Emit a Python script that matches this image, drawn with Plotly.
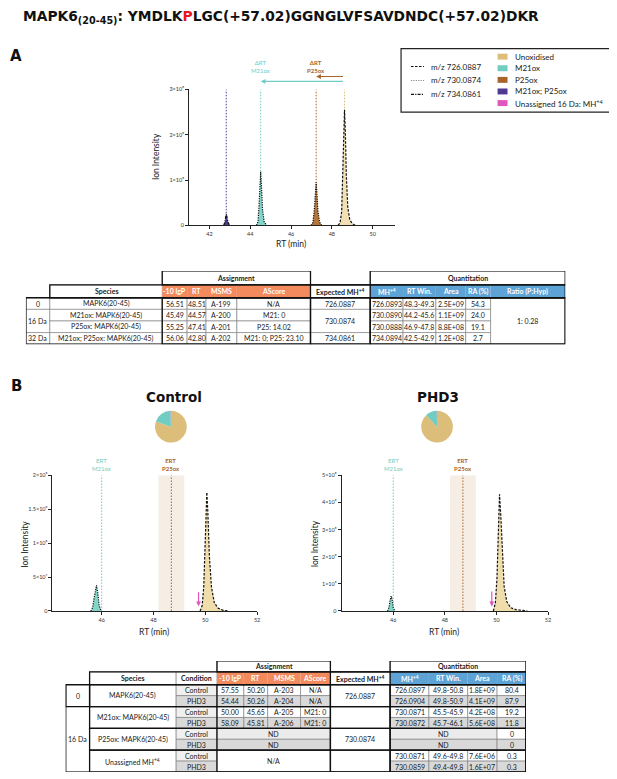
import plotly.graph_objects as go

# page body has an 8px margin, so the figure is offset by 8px in the window
OFF = 8
W, H = 617 - OFF, 779 - OFF


def fx(px):
    return (px - OFF) / W


def fy(py):
    return 1 - (py - OFF) / H


# ---------------- data ----------------
# Panel A: XIC peaks, intensity in units of 1e8
a_unox_rt = [48.30, 48.40, 48.48, 48.54, 48.58, 48.62, 48.66, 48.71, 48.78, 48.88, 49.00, 49.15]
a_unox_int = [0, 0.05, 0.30, 1.00, 1.90, 2.55, 2.10, 1.10, 0.40, 0.12, 0.04, 0]
a_m21_rt = [44.30, 44.38, 44.43, 44.47, 44.51, 44.55, 44.60, 44.68, 44.80]
a_m21_int = [0, 0.08, 0.45, 0.95, 1.18, 0.85, 0.35, 0.08, 0]
a_p25_rt = [46.98, 47.07, 47.14, 47.19, 47.23, 47.27, 47.32, 47.40, 47.50]
a_p25_int = [0, 0.06, 0.35, 0.75, 0.95, 0.70, 0.30, 0.07, 0]
a_dox_rt = [42.70, 42.76, 42.80, 42.83, 42.87, 42.92, 43.00]
a_dox_int = [0, 0.08, 0.20, 0.25, 0.15, 0.05, 0]
a_guide_rt = [42.82, 44.51, 47.23, 48.62]

# Panel B: control / PHD3 XIC peaks
c_unox_rt = [49.80, 49.88, 49.94, 49.98, 50.02, 50.06, 50.10, 50.16, 50.24, 50.35, 50.50, 50.70, 50.90]
c_unox_int = [0, 0.08, 0.35, 0.80, 1.50, 1.75, 1.45, 0.80, 0.35, 0.12, 0.04, 0.01, 0]
c_m21_rt = [45.58, 45.65, 45.71, 45.76, 45.80, 45.85, 45.90, 45.97]
c_m21_int = [0, 0.05, 0.20, 0.34, 0.38, 0.26, 0.09, 0]
p_unox_rt = [49.88, 49.96, 50.02, 50.07, 50.12, 50.17, 50.23, 50.30, 50.40, 50.55, 50.75, 51.00, 51.20]
p_unox_int = [0, 0.30, 1.20, 2.80, 4.30, 3.50, 2.00, 0.90, 0.35, 0.12, 0.05, 0.02, 0]
p_m21_rt = [45.78, 45.84, 45.88, 45.92, 45.96, 46.00, 46.06]
p_m21_int = [0, 0.15, 0.40, 0.55, 0.42, 0.12, 0]
c_ert = [46.00, 48.69]   # expected RT of M21ox, P25ox
p_ert = [46.00, 48.70]
ert_half = 0.5
c_unassigned_rt = 49.74
p_unassigned_rt = 49.82

pie_labels = ["Unoxidised", "M21ox", "P25ox", "Unassigned 16 Da: MH+4"]
ctrl_ra = [80.4, 19.2, 0, 0.3]
phd3_ra = [87.9, 11.8, 0, 0.3]

mz_labels = ["m/z 726.0887", "m/z 730.0874", "m/z 734.0861"]
species_labels = ["Unoxidised", "M21ox", "P25ox", "M21ox; P25ox", "Unassigned 16 Da: MH<sup>+4</sup>"]

# Table A
ta_delta = ["0", "16 Da", "32 Da"]
ta_delta_span = [1, 2, 1]
ta_species = ["MAPK6(20-45)", "M21ox: MAPK6(20-45)", "P25ox: MAPK6(20-45)", "M21ox; P25ox: MAPK6(20-45)"]
ta_lgp = ["56.51", "45.49", "55.25", "56.06"]
ta_rt = ["48.51", "44.57", "47.41", "42.80"]
ta_msms = ["A-199", "A-200", "A-201", "A-202"]
ta_ascore = ["N/A", "M21: 0", "P25: 14.02", "M21: 0; P25: 23.10"]
ta_expected = ["726.0887", "730.0874", "734.0861"]
ta_mh = ["726.0893", "730.0890", "730.0888", "734.0894"]
ta_rtwin = ["48.3-49.3", "44.2-45.6", "46.9-47.8", "42.5-42.9"]
ta_area = ["2.5E+09", "1.1E+09", "8.8E+08", "1.2E+08"]
ta_ra = ["54.3", "24.0", "19.1", "2.7"]
ta_ratio = "1: 0.28"

# Table B
tb_delta = ["0", "16 Da"]
tb_delta_span = [2, 6]
tb_species = ["MAPK6(20-45)", "M21ox: MAPK6(20-45)", "P25ox: MAPK6(20-45)", "Unassigned MH<sup>+4</sup>"]
tb_condition = ["Control", "PHD3"] * 4
tb_lgp = ["57.55", "54.44", "50.00", "58.09"]
tb_rt = ["50.20", "50.26", "45.65", "45.81"]
tb_msms = ["A-203", "A-204", "A-205", "A-206"]
tb_ascore = ["N/A", "N/A", "M21: 0", "M21: 0"]
tb_expected = ["726.0887", "730.0874"]
tb_expected_span = [2, 6]
tb_mh = ["726.0897", "726.0904", "730.0871", "730.0872", "ND", "ND", "730.0871", "730.0859"]
tb_rtwin = ["49.8-50.8", "49.8-50.9", "45.5-45.9", "45.7-46.1", "", "", "49.6-49.8", "49.4-49.8"]
tb_area = ["1.8E+09", "4.1E+09", "4.2E+08", "5.6E+08", "", "", "7.6E+06", "1.6E+07"]
tb_ra = ["80.4", "87.9", "19.2", "11.8", "0", "0", "0.3", "0.3"]

# ---------------- styles ----------------
TAN, TEAL, BROWN, PURPLE, PINK = "#DDBD7A", "#6FCDC1", "#A8652B", "#4F3A93", "#E055BE"
TAN_FILL = "#F2E0B4"
ORANGE, BLUE = "#F28A5E", "#5EA3D6"
FONT = "Lato"
TFONT = "Lato"
TSIZE = 7
E8 = 1e8
DASH = {"726": "2.5px,1.5px", "730": "1.2px,1.2px", "734": "3px,1.2px,1.2px,1.2px"}

fig = go.Figure()
shapes = []
annotations = []


def note(x, y, text, size, color="#222222", family=FONT, xanchor="center", angle=0,
         xref="paper", yref="paper"):
    annotations.append(dict(x=x, y=y, xref=xref, yref=yref, text=text, textangle=angle,
                            showarrow=False, xanchor=xanchor, yanchor="middle",
                            font=dict(family=family, size=size, color=color)))


def peak(xa, ya, rt, inten, fill, dash):
    ys = [v * E8 for v in inten]
    fig.add_trace(go.Scatter(x=rt, y=ys, xaxis=xa, yaxis=ya, mode="lines", fill="tozeroy",
                             fillcolor=fill, line=dict(width=0), showlegend=False, hoverinfo="skip"))
    fig.add_trace(go.Scatter(x=rt, y=ys, xaxis=xa, yaxis=ya, mode="lines",
                             line=dict(color="#111111", width=1.2, dash=dash), showlegend=False,
                             hoverinfo="skip"))


def guide(xa, ya, x, top, color):
    fig.add_trace(go.Scatter(x=[x, x], y=[0, top], xaxis=xa, yaxis=ya, mode="lines",
                             line=dict(color=color, width=1, dash="1.5px,1.5px"), showlegend=False,
                             hoverinfo="skip"))


# ---- panel A chart ----
for x, c in zip(a_guide_rt, [PURPLE, TEAL, BROWN, TAN]):
    guide("x", "y", x, 3 * E8, c)
peak("x", "y", a_dox_rt, a_dox_int, PURPLE, DASH["734"])
peak("x", "y", a_m21_rt, a_m21_int, "#82D6C9", DASH["730"])
peak("x", "y", a_p25_rt, a_p25_int, "#B47638", DASH["730"])
peak("x", "y", a_unox_rt, a_unox_int, TAN_FILL, DASH["726"])

# ΔRT arrows above panel A
for head, yy, c in [(a_guide_rt[1], 79, TEAL), (a_guide_rt[2], 74, BROWN)]:
    annotations.append(dict(x=head, y=fy(yy), xref="x", yref="paper", ax=a_guide_rt[3], ay=0,
                            axref="x", ayref="pixel", text="", showarrow=True, arrowhead=2,
                            arrowsize=0.8, arrowwidth=1.2, arrowcolor=c))
note(a_guide_rt[1], fy(64), "ΔRT<br>M21ox", 6, TEAL, xref="x")
note(a_guide_rt[2], fy(64), "<b>ΔRT<br>P25ox</b>", 6, BROWN, xref="x")

# ---- panel B charts ----
for xa, ya, ert, top, rt_u, in_u, rt_m, in_m, pink_x, arrow in [
    ("x2", "y2", c_ert, 2 * E8, c_unox_rt, c_unox_int, c_m21_rt, c_m21_int, c_unassigned_rt, (0.07, 0.30)),
    ("x3", "y3", p_ert, 5 * E8, p_unox_rt, p_unox_int, p_m21_rt, p_m21_int, p_unassigned_rt, (0.17, 0.77)),
]:
    shapes.append(dict(type="rect", xref=xa, yref=ya, x0=ert[1] - ert_half, x1=ert[1] + ert_half,
                       y0=0, y1=top, fillcolor="#F6EEE5", line=dict(width=0), layer="below"))
    guide(xa, ya, ert[0], top, TEAL)
    guide(xa, ya, ert[1], top, BROWN)
    peak(xa, ya, rt_m, in_m, "#82D6C9", DASH["730"])
    peak(xa, ya, rt_u, in_u, "#F0DDAC", DASH["726"])
    annotations.append(dict(x=pink_x, y=arrow[0] * E8, xref=xa, yref=ya, ax=pink_x, ay=arrow[1] * E8,
                            axref=xa, ayref=ya, text="", showarrow=True, arrowhead=2, arrowsize=0.8,
                            arrowwidth=1.2, arrowcolor=PINK))
    note(ert[0], fy(465), "ERT<br>M21ox", 6, TEAL, xref=xa)
    note(ert[1], fy(465), "<b>ERT<br>P25ox</b>", 6, BROWN, xref=xa)

# pies
pie_colors = [TAN, TEAL, BROWN, PINK]
for vals, cx in [(ctrl_ra, 171.7), (phd3_ra, 439.2)]:
    fig.add_trace(go.Pie(labels=pie_labels, values=vals, sort=False, direction="clockwise",
                         marker=dict(colors=pie_colors, line=dict(width=0)), textinfo="none",
                         showlegend=False, hoverinfo="skip",
                         domain=dict(x=[fx(cx - 16), fx(cx + 16)], y=[fy(443), fy(411)])))

# ---- axes ----
tick_font = dict(family=FONT, size=5.5, color="#333333")


def xax(domain, rng, ticks, anchor):
    return dict(domain=domain, range=rng, tickvals=ticks, ticktext=[str(t) for t in ticks],
                showline=True, linecolor="#222222", linewidth=1, ticks="outside", ticklen=3,
                tickwidth=1, tickcolor="#222222", showgrid=False, zeroline=False,
                tickfont=tick_font, anchor=anchor)


def yax(domain, rng, ticks, labels, anchor):
    return dict(domain=domain, range=rng, tickvals=ticks, ticktext=labels,
                showline=True, linecolor="#222222", linewidth=1, ticks="outside", ticklen=3,
                tickwidth=1, tickcolor="#222222", showgrid=False, zeroline=False,
                tickfont=tick_font, anchor=anchor)


layout_axes = dict(
    xaxis=xax([fx(190), fx(397)], [41.0, 51.1], [42, 44, 46, 48, 50], "y"),
    yaxis=yax([fy(224), fy(87)], [0, 3 * E8], [0, E8, 2 * E8, 3 * E8],
              ["0", "1×10⁸", "2×10⁸", "3×10⁸"], "x"),
    xaxis2=xax([fx(52.7), fx(258.3)], [44.1, 52.0], [46, 48, 50, 52], "y2"),
    yaxis2=yax([fy(612.7), fy(476)], [0, 2 * E8], [0, 0.5 * E8, E8, 1.5 * E8, 2 * E8],
               ["0", "5×10⁷", "1×10⁸", "1.5×10⁸", "2×10⁸"], "x2"),
    xaxis3=xax([fx(343.3), fx(550.7)], [44.0, 52.0], [46, 48, 50, 52], "y3"),
    yaxis3=yax([fy(612.7), fy(476)], [0, 5 * E8], [0, E8, 2 * E8, 3 * E8, 4 * E8, 5 * E8],
               ["0", "1×10⁸", "2×10⁸", "3×10⁸", "4×10⁸", "5×10⁸"], "x3"),
)

# axis titles
for x, y, txt, ang in [(157, 155, "Ion Intensity", -90), (292, 243, "RT (min)", 0),
                       (25, 545, "Ion Intensity", -90), (155, 634, "RT (min)", 0),
                       (316, 545, "Ion Intensity", -90), (446, 634, "RT (min)", 0)]:
    note(fx(x), fy(y), txt, 8.5, angle=ang)

# ---- legend box (panel A) ----
shapes.append(dict(type="rect", xref="paper", yref="paper", x0=fx(403), x1=fx(613), y0=fy(110), y1=fy(46),
                   line=dict(color="#222222", width=1.2), fillcolor="white"))
for i, (lab, key, col) in enumerate(zip(mz_labels, ["726", "730", "734"], ["#111", "#888", "#111"])):
    yy = 64 + 14 * i
    shapes.append(dict(type="line", xref="paper", yref="paper", x0=fx(413), x1=fx(426), y0=fy(yy), y1=fy(yy),
                       line=dict(color=col, width=1.1, dash=DASH[key])))
    note(fx(431), fy(yy), lab, 8, xanchor="left")
for i, (lab, col) in enumerate(zip(species_labels, [TAN, TEAL, BROWN, PURPLE, PINK])):
    yy = 54 + 11.7 * i
    shapes.append(dict(type="rect", xref="paper", yref="paper", x0=fx(500), x1=fx(510), y0=fy(yy + 3),
                       y1=fy(yy - 3), fillcolor=col, line=dict(width=0)))
    note(fx(515), fy(yy), lab, 8, xanchor="left")


# ---- tables ----
def cell(xa, ya, x0, x1, y0, y1, text="", fill="white", color="#1a1a1a", bold=False, line=True):
    shapes.append(dict(type="rect", xref=xa, yref=ya, x0=x0, x1=x1, y0=y0, y1=y1, fillcolor=fill,
                       line=dict(color="#777777", width=0.6 if line else 0)))
    if text:
        note((x0 + x1) / 2, (y0 + y1) / 2, f"<b>{text}</b>" if bold else text, TSIZE, color,
             family=TFONT, xref=xa, yref=ya)


def frame(xa, ya, x0, x1, y0, y1):
    shapes.append(dict(type="rect", xref=xa, yref=ya, x0=x0, x1=x1, y0=y0, y1=y1,
                       line=dict(color="#111111", width=1.3), fillcolor="rgba(0,0,0,0)"))


def cum(widths):
    out = [0]
    for w in widths:
        out.append(out[-1] + w)
    return out


# Table A
ta_w = [24, 113, 25, 19, 31, 74, 60, 33, 33, 30, 25, 75]
tx = cum(ta_w)
ty = [0, 14, 27, 38.7, 50.4, 62.1, 73.8]
XA, YA = "x4", "y4"
cell(XA, YA, tx[2], tx[6], ty[0], ty[1], "Assignment", bold=True)
cell(XA, YA, tx[7], tx[12], ty[0], ty[1], "Quantitation", bold=True)
heads = ["Species", "-10 lgP", "RT", "MSMS", "AScore", "Expected MH<sup>+4</sup>",
         "MH<sup>+4</sup>", "RT Win.", "Area", "RA (%)", "Ratio (P:Hyp)"]
for j, h in enumerate(heads, start=1):
    if 2 <= j <= 5:
        cell(XA, YA, tx[j], tx[j + 1], ty[1], ty[2], h, fill=ORANGE, color="white", bold=True, line=False)
    elif j >= 7:
        cell(XA, YA, tx[j], tx[j + 1], ty[1], ty[2], h, fill=BLUE, color="white", bold=True, line=False)
    else:
        cell(XA, YA, tx[j], tx[j + 1], ty[1], ty[2], h, bold=True)
r = 0
for d, span in zip(ta_delta, ta_delta_span):
    cell(XA, YA, tx[0], tx[1], ty[2 + r], ty[2 + r + span], d)
    r += span
r = 0
for e, span in zip(ta_expected, ta_delta_span):
    cell(XA, YA, tx[6], tx[7], ty[2 + r], ty[2 + r + span], e)
    r += span
for i in range(4):
    y0, y1 = ty[2 + i], ty[3 + i]
    for j, v in [(1, ta_species[i]), (2, ta_lgp[i]), (3, ta_rt[i]), (4, ta_msms[i]), (5, ta_ascore[i]),
                 (7, ta_mh[i]), (8, ta_rtwin[i]), (9, ta_area[i]), (10, ta_ra[i])]:
        cell(XA, YA, tx[j], tx[j + 1], y0, y1, v)
cell(XA, YA, tx[11], tx[12], ty[2], ty[6], ta_ratio)
frame(XA, YA, tx[2], tx[6], ty[0], ty[1])
frame(XA, YA, tx[7], tx[12], ty[0], ty[1])
frame(XA, YA, tx[1], tx[12], ty[1], ty[2])
frame(XA, YA, tx[0], tx[12], ty[2], ty[6])
frame(XA, YA, tx[6], tx[7], ty[1], ty[6])
frame(XA, YA, tx[2], tx[6], ty[2], ty[6])
frame(XA, YA, tx[7], tx[12], ty[2], ty[6])

# Table B
tb_w = [24, 87, 41, 27, 24, 33, 30, 60, 39, 39, 29.5, 29]
bx = cum(tb_w)
by = [0, 11, 24] + [24 + 11 * k for k in range(1, 9)]
XB, YB = "x5", "y5"
GRAY, LIGHT = "#D9D9D9", "#F0F0F0"
cell(XB, YB, bx[3], bx[7], by[0], by[1], "Assignment", bold=True)
cell(XB, YB, bx[8], bx[12], by[0], by[1], "Quantitation", bold=True)
heads_b = ["Species", "Condition", "-10 lgP", "RT", "MSMS", "AScore", "Expected MH<sup>+4</sup>",
           "MH<sup>+4</sup>", "RT Win.", "Area", "RA (%)"]
for j, h in enumerate(heads_b, start=1):
    if 3 <= j <= 6:
        cell(XB, YB, bx[j], bx[j + 1], by[1], by[2], h, fill=ORANGE, color="white", bold=True, line=False)
    elif j >= 8:
        cell(XB, YB, bx[j], bx[j + 1], by[1], by[2], h, fill=BLUE, color="white", bold=True, line=False)
    else:
        cell(XB, YB, bx[j], bx[j + 1], by[1], by[2], h, bold=True)
r = 0
for d, span in zip(tb_delta, tb_delta_span):
    cell(XB, YB, bx[0], bx[1], by[2 + r], by[2 + r + span], d)
    r += span
r = 0
for e, span in zip(tb_expected, tb_expected_span):
    cell(XB, YB, bx[7], bx[8], by[2 + r], by[2 + r + span], e)
    r += span
for k, s in enumerate(tb_species):
    cell(XB, YB, bx[1], bx[2], by[2 + 2 * k], by[4 + 2 * k], s)
for i in range(8):
    y0, y1 = by[2 + i], by[3 + i]
    phd3 = tb_condition[i] == "PHD3"
    row_fill = GRAY if phd3 else "white"
    cell(XB, YB, bx[2], bx[3], y0, y1, tb_condition[i], fill=GRAY if phd3 else LIGHT)
    if i < 4:
        for j, v in [(3, tb_lgp[i]), (4, tb_rt[i]), (5, tb_msms[i]), (6, tb_ascore[i])]:
            cell(XB, YB, bx[j], bx[j + 1], y0, y1, v, fill=row_fill)
    elif i < 6:
        cell(XB, YB, bx[3], bx[7], y0, y1, "ND", fill=GRAY if phd3 else "#EBEBEB")
    if tb_mh[i] == "ND":
        cell(XB, YB, bx[8], bx[11], y0, y1, "ND", fill=GRAY if phd3 else "#EBEBEB")
    else:
        for j, v in [(8, tb_mh[i]), (9, tb_rtwin[i]), (10, tb_area[i])]:
            cell(XB, YB, bx[j], bx[j + 1], y0, y1, v, fill=row_fill)
    cell(XB, YB, bx[11], bx[12], y0, y1, tb_ra[i], fill=row_fill)
cell(XB, YB, bx[3], bx[7], by[8], by[10], "N/A")
frame(XB, YB, bx[3], bx[7], by[0], by[1])
frame(XB, YB, bx[8], bx[12], by[0], by[1])
frame(XB, YB, bx[1], bx[12], by[1], by[2])
frame(XB, YB, bx[0], bx[12], by[2], by[10])
for k in range(4):
    frame(XB, YB, bx[1], bx[12], by[2 + 2 * k], by[4 + 2 * k])
frame(XB, YB, bx[0], bx[1], by[2], by[4])
frame(XB, YB, bx[7], bx[8], by[1], by[10])
frame(XB, YB, bx[3], bx[7], by[2], by[10])
frame(XB, YB, bx[8], bx[12], by[2], by[10])

hidden = dict(visible=False, showgrid=False, zeroline=False)
layout_axes.update(
    xaxis4=dict(domain=[fx(26), fx(26 + tx[-1])], range=[0, tx[-1]], anchor="y4", **hidden),
    yaxis4=dict(domain=[fy(270 + ty[-1]), fy(270)], range=[ty[-1], 0], anchor="x4", **hidden),
    xaxis5=dict(domain=[fx(66), fx(66 + bx[-1])], range=[0, bx[-1]], anchor="y5", **hidden),
    yaxis5=dict(domain=[fy(663 + by[-1]), fy(663)], range=[by[-1], 0], anchor="x5", **hidden),
)

# ---- titles and panel letters ----
note(fx(21), fy(14), "<b>MAPK6<sub>(20-45)</sub>: YMDLK<span style='color:#E8161E'>P</span>"
                     "LGC(+57.02)GGNGLVFSAVDNDC(+57.02)DKR</b>",
     13.8, "#111111", family="DejaVu Sans", xanchor="left")
for txt, x, y in [("A", 16, 53), ("B", 16.5, 385.5)]:
    note(fx(x), fy(y), f"<b>{txt}</b>", 15, "#111111", family="DejaVu Sans")
for txt, x in [("Control", 175), ("PHD3", 440.5)]:
    note(fx(x), fy(397.5), f"<b>{txt}</b>", 13.5, "#111111", family="DejaVu Sans")

fig.update_layout(
    width=W, height=H, margin=dict(l=0, r=0, t=0, b=0),
    paper_bgcolor="white", plot_bgcolor="rgba(0,0,0,0)",
    showlegend=False, shapes=shapes, annotations=annotations,
    **layout_axes,
)

fig.write_html("out.html")
